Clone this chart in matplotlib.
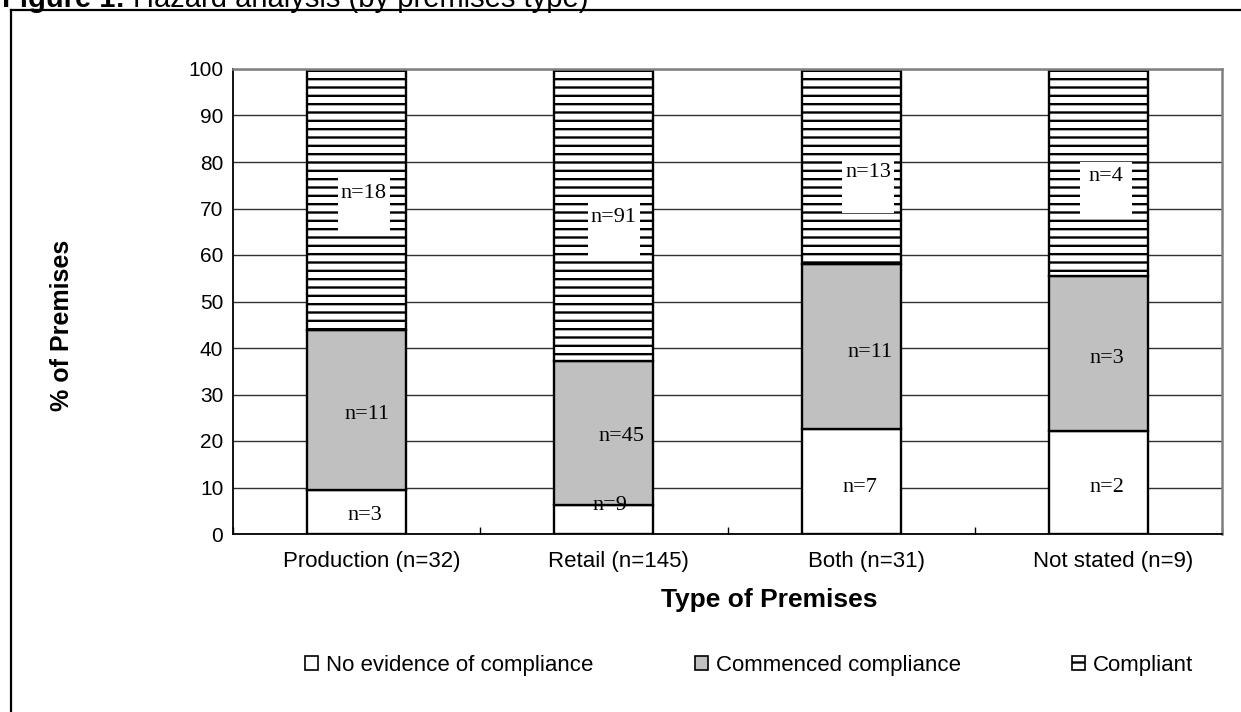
import matplotlib
matplotlib.use("Agg")
import matplotlib.pyplot as plt
import matplotlib.transforms as mtransforms
from matplotlib.patches import Patch, Rectangle
from matplotlib.lines import Line2D

# ---------------- data ----------------
categories = ["Production (n=32)", "Retail (n=145)", "Both (n=31)", "Not stated (n=9)"]
no_evidence = [9.4, 6.2, 22.6, 22.2]
commenced = [34.4, 31.0, 35.5, 33.3]
compliant = [56.2, 62.8, 41.9, 44.5]
no_evidence_n = ["n=3", "n=9", "n=7", "n=2"]
commenced_n = ["n=11", "n=45", "n=11", "n=3"]
compliant_n = ["n=18", "n=91", "n=13", "n=4"]
series_names = ["No evidence of compliance", "Commenced compliance", "Compliant"]
yticks = [0, 10, 20, 30, 40, 50, 60, 70, 80, 90, 100]

# label layout (x offset within category, y position in %)
ne_pos = [(0.034, 3.9), (0.024, 6.1), (0.036, 10.1), (0.035, 10.1)]
cm_pos = [(0.042, 25.7), (0.07, 21.0), (0.076, 39.1), (0.035, 37.8)]
cp_pos = [(0.028, 73.3), (0.04, 68.0), (0.07, 77.8), (0.03, 76.8)]

W, H, DPI = 1241, 712, 100
plt.rcParams["font.family"] = ["Liberation Sans", "DejaVu Sans"]
plt.rcParams["hatch.linewidth"] = 1.7

fig = plt.figure(figsize=(W / DPI, H / DPI), dpi=DPI)
ax = fig.add_axes([233 / W, 1 - 534 / H, (1222 - 233) / W, (534 - 69) / H])

x = list(range(len(categories)))
bw = 0.4
ec = "black"
lw = 1.7
b1 = ax.bar(x, no_evidence, bw, color="white", edgecolor=ec, linewidth=lw, zorder=2)
b2 = ax.bar(x, commenced, bw, bottom=no_evidence, color="#C0C0C0", edgecolor=ec,
            linewidth=lw, zorder=2)
bottom3 = [a + b for a, b in zip(no_evidence, commenced)]
b3 = ax.bar(x, compliant, bw, bottom=bottom3, color="white", edgecolor=ec,
            linewidth=lw, hatch="--", zorder=2)

ax.set_xlim(-0.5, len(categories) - 0.5)
ax.set_ylim(0, 100)
ax.set_yticks(yticks)
ax.set_xticks(x)
ax.set_xticklabels(categories, fontsize=16)
ax.set_xticks([i - 0.5 for i in range(len(categories) + 1)], minor=True)
ax.tick_params(axis="x", which="major", length=0, pad=12)
ax.tick_params(axis="x", which="minor", direction="in", length=5, width=1, color="black")
ax.tick_params(axis="y", which="major", length=0, pad=7, labelsize=15)

ax.yaxis.grid(True, color="#303030", linewidth=1.0, zorder=0)
ax.set_axisbelow(True)
for s in ["top", "right"]:
    ax.spines[s].set_color("#808080")
    ax.spines[s].set_linewidth(1.8)
for s in ["left", "bottom"]:
    ax.spines[s].set_color("black")
    ax.spines[s].set_linewidth(1.3)

# shift x tick labels slightly right like the original
offset = mtransforms.ScaledTranslation(15 / DPI, 0, fig.dpi_scale_trans)
for lab in ax.get_xticklabels():
    lab.set_transform(lab.get_transform() + offset)

# segment labels
serif = ["Liberation Serif", "DejaVu Serif"]
for i in x:
    dx, yy = ne_pos[i]
    ax.text(i + dx, yy, no_evidence_n[i], ha="center", va="center", fontsize=16,
            family=serif, zorder=5)
    dx, yy = cm_pos[i]
    ax.text(i + dx, yy, commenced_n[i], ha="center", va="center", fontsize=16,
            family=serif, zorder=5)
    dx, yy = cp_pos[i]
    ax.add_patch(Rectangle((i + dx - 0.105, yy + 3.3 - 12), 0.21, 12,
                           facecolor="white", edgecolor="none", zorder=4))
    ax.text(i + dx, yy, compliant_n[i], ha="center", va="center", fontsize=16,
            family=serif, zorder=5)

# axis titles
fig.text(769 / W, 1 - 600 / H, "Type of Premises", ha="center", va="center",
         fontsize=19, weight="bold")
fig.text(62 / W, 1 - 325 / H, "% of Premises", ha="center", va="center",
         fontsize=18, weight="bold", rotation=90)

# legend (three separate entries, positioned like the original)
handles = [
    Patch(facecolor="white", edgecolor="black", linewidth=1.2),
    Patch(facecolor="#C0C0C0", edgecolor="black", linewidth=1.2),
    Patch(facecolor="white", edgecolor="black", linewidth=1.2, hatch="--"),
]
leg_x = [305, 695, 1072]
for h, name, lx in zip(handles, series_names, leg_x):
    lg = fig.legend(handles=[h], labels=[name], loc="center left",
                    bbox_to_anchor=(lx / W, 1 - 665 / H), frameon=False,
                    fontsize=16, handlelength=0.6, handleheight=0.6,
                    handletextpad=0.35, borderpad=0, borderaxespad=0)

# title (cut off at the top as in the original)
fig.text(2 / W, 1 - 7 / H, "Figure 1:", ha="left", va="baseline", fontsize=21,
         weight="bold")
fig.text(133 / W, 1 - 7 / H, "Hazard analysis (by premises type)", ha="left",
         va="baseline", fontsize=21)

# outer frame (left and top edges visible)
fig.add_artist(Line2D([10.5 / W, 10.5 / W], [1 - 10 / H, 0], transform=fig.transFigure,
                      color="black", linewidth=1.6))
fig.add_artist(Line2D([10.5 / W, 1], [1 - 10 / H, 1 - 10 / H], transform=fig.transFigure,
                      color="black", linewidth=1.6))

fig.savefig("out.png", dpi=DPI)
